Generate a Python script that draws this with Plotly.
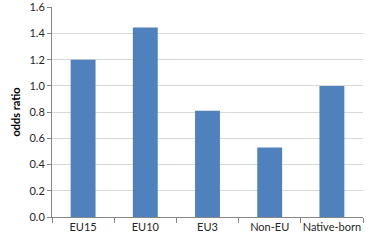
import plotly.graph_objects as go

categories = ["EU15", "EU10", "EU3", "Non-EU", "Native-born"]
values = [1.2, 1.445, 0.81, 0.53, 1.0]
y_ticks = [0.0, 0.2, 0.4, 0.6, 0.8, 1.0, 1.2, 1.4, 1.6]
y_tick_labels = ["0.0", "0.2", "0.4", "0.6", "0.8", "1.0", "1.2", "1.4", "1.6"]

fig = go.Figure(go.Bar(x=categories, y=values, marker=dict(color="#4f81bd", line=dict(width=0))))

fig.update_layout(
    width=369, height=242,
    margin=dict(l=52, r=6, t=7, b=25, autoexpand=False),
    paper_bgcolor="white", plot_bgcolor="white",
    bargap=0.6,
    showlegend=False,
    font=dict(family="Lato, sans-serif", size=11, color="#262626"),
)
fig.update_xaxes(
    showline=True, linecolor="#868686", linewidth=1,
    ticks="outside", tickson="boundaries", ticklen=5, tickcolor="#868686",
    showgrid=False, tickfont=dict(size=11), tickangle=0, automargin=False,
)
fig.update_yaxes(
    range=[0, 1.602], tickvals=y_ticks, ticktext=y_tick_labels,
    showline=True, linecolor="#868686", linewidth=1,
    ticks="outside", ticklen=4, tickcolor="#868686",
    showgrid=True, gridcolor="#d9d9d9", gridwidth=1,
    zeroline=False, automargin=False, ticklabeloverflow="allow",
    title=dict(text="<b>odds ratio</b>", font=dict(size=11, color="#000000"), standoff=6),
    tickfont=dict(size=11),
)

fig.write_html("out.html")
